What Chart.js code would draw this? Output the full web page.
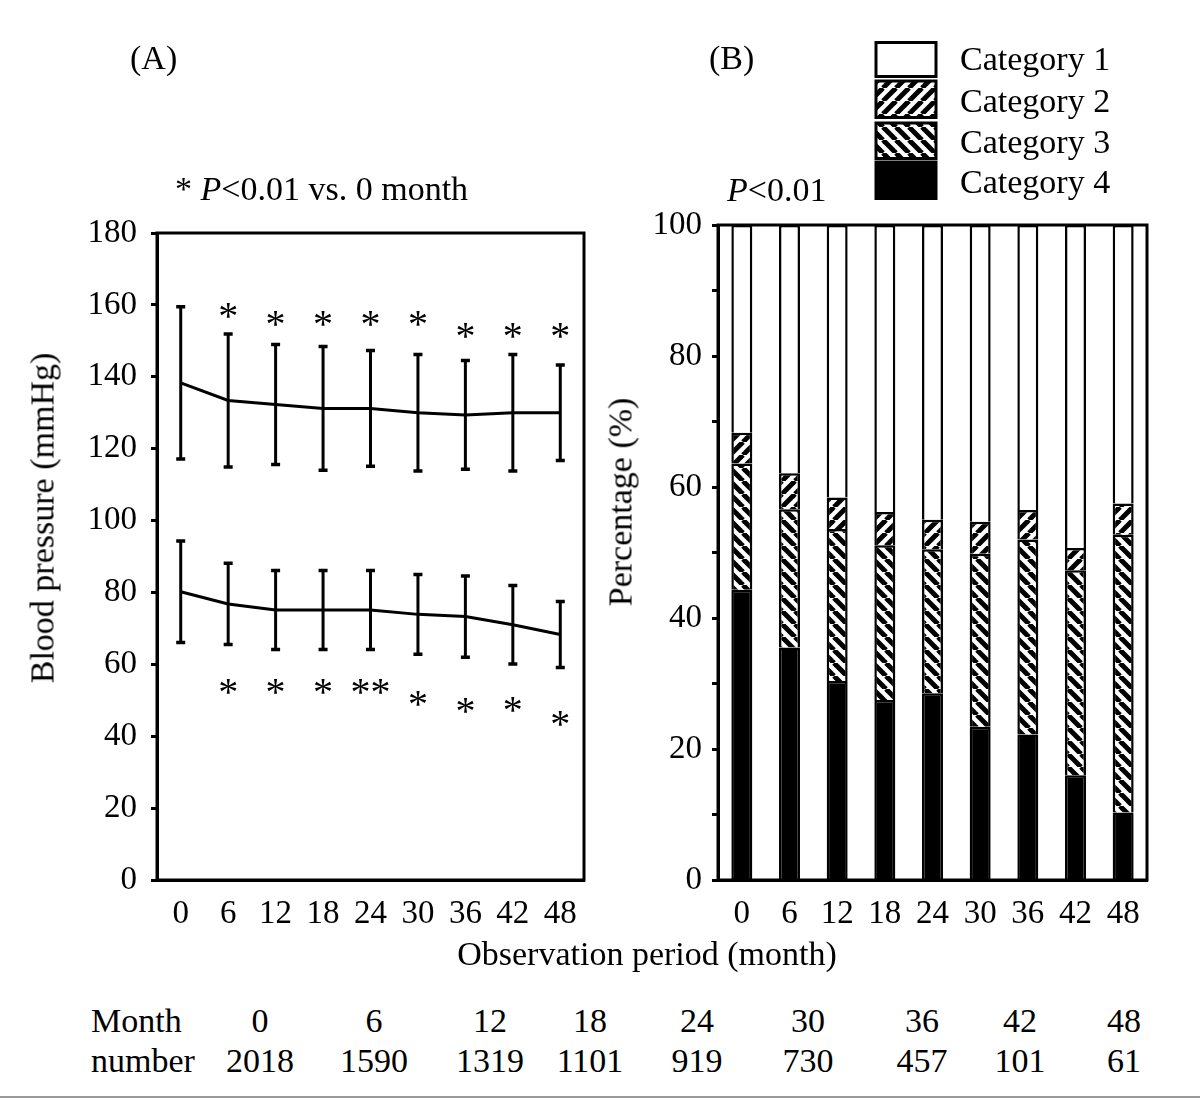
<!DOCTYPE html>
<html><head><meta charset="utf-8">
<script src="https://cdn.jsdelivr.net/npm/chart.js@4.4.1/dist/chart.umd.min.js"></script>
<style>
html,body{margin:0;padding:0;background:#fff;}
body{width:1200px;height:1100px;position:relative;overflow:hidden;font-family:"Liberation Serif","Times New Roman",serif;color:#000;}
.t{position:absolute;font-size:34px;line-height:33px;white-space:nowrap;}
.c{transform:translate(-50%,-50%);}
.r{transform:translate(-50%,-50%) rotate(-90deg);}
#wa{position:absolute;left:0;top:0;width:600px;height:960px;}
#wb{position:absolute;left:600px;top:0;width:600px;height:960px;}
#leg{position:absolute;left:870px;top:36px;}
#hr{position:absolute;left:0;top:1096px;width:1200px;height:2px;background:#999;}
</style></head>
<body>
<div id="wa"><canvas id="ca"></canvas></div>
<div id="wb"><canvas id="cb"></canvas></div>
<canvas id="leg" width="75" height="170"></canvas>
<div id="texts"></div>
<div id="hr"></div>
<script>
// ---------- data ----------
const months = ['0','6','12','18','24','30','36','42','48'];
const sysMean = [138.3,133.4,132.3,131.2,131.2,130.0,129.4,130.0,130.0];
const sysSD   = [21.2,18.5,16.7,17.2,16.1,16.2,15.1,16.2,13.3];
const diaMean = [80.2,76.8,75.1,75.1,75.1,73.9,73.3,71.0,68.3];
const diaSD   = [14.1,11.3,11.0,11.0,11.0,11.1,11.3,10.9,9.2];
const sysStarVal  = [null,158.6,156.3,156.3,156.3,156.3,153.0,153.0,153.0];
const sysStarText = ['','*','*','*','*','*','*','*','*'];
const diaStarVal  = [null,54.1,54.1,54.1,54.1,50.7,48.7,48.9,45.2];
const diaStarText = ['','*','*','*','**','*','*','*','*'];

const cat4 = [44.3,35.5,30.4,27.5,28.5,23.4,22.2,16.0,10.3];
const cat3 = [19.3,21.1,23.2,23.6,22.0,26.4,29.8,31.3,42.4];
const cat2 = [4.7,5.5,4.8,5.1,4.5,4.9,4.5,3.4,4.8];
const cat1 = [31.7,37.9,41.6,43.8,45.0,45.3,43.5,49.3,42.5];
const categoryNames = ['Category 1','Category 2','Category 3','Category 4'];

const tableMonths = ['0','6','12','18','24','30','36','42','48'];
const tableNumbers = ['2018','1590','1319','1101','919','730','457','101','61'];

// ---------- layout (not data) ----------
const tableColX = [260,374,490,590,697,808,922,1020,1124];
const FONT = '"Liberation Serif","Times New Roman",serif';

// ---------- texts ----------
const T = document.getElementById('texts');
function addText(html, x, y, cls){
  const d = document.createElement('div');
  d.className = 't ' + (cls||'');
  d.style.left = x + 'px';
  d.style.top = (cls ? y : y - 16.5) + 'px';
  d.innerHTML = html;
  T.appendChild(d);
}
addText('(A)', 130, 57);
addText('(B)', 709, 57);
addText('* <i>P</i>&lt;0.01 vs. 0 month', 175, 188);
addText('<i>P</i>&lt;0.01', 727, 189);
addText('Blood pressure (mmHg)', 42, 518, 'r');
addText('Percentage (%)', 620, 502, 'r');
addText('Observation period (month)', 647, 953, 'c');
addText('Month', 91, 1020);
addText('number', 91, 1060);
tableMonths.forEach((m,i)=>addText(m, tableColX[i], 1020, 'c'));
tableNumbers.forEach((n,i)=>addText(n, tableColX[i], 1060, 'c'));
const legY = [58,100,141,181];
categoryNames.forEach((n,i)=>addText(n, 960, legY[i]));

// ---------- patterns ----------
function stripe(ctx, dir){
  const s = 13, c = document.createElement('canvas');
  c.width = s; c.height = s;
  const g = c.getContext('2d');
  g.fillStyle = '#fff'; g.fillRect(0,0,s,s);
  g.strokeStyle = '#000'; g.lineWidth = 5;
  for (let k=-1;k<=1;k++){
    g.beginPath();
    if (dir > 0){ g.moveTo(k*s, s); g.lineTo(k*s+s, 0); }
    else { g.moveTo(k*s, 0); g.lineTo(k*s+s, s); }
    g.stroke();
  }
  return ctx.createPattern(c, 'repeat');
}

// legend swatches
(function(){
  const lc = document.getElementById('leg').getContext('2d');
  const fills = ['#fff', stripe(lc, 1), stripe(lc, -1), '#000'];
  const boxes = [[6,6.5,60,34],[6,45,60,36.5],[6,87,60,35.5],[6,126,60,36.5]];
  boxes.forEach((b,i)=>{
    lc.fillStyle = fills[i]; lc.fillRect(b[0],b[1],b[2],b[3]);
    lc.strokeStyle = '#000'; lc.lineWidth = 3; lc.strokeRect(b[0],b[1],b[2],b[3]);
  });
})();

// ---------- plugins ----------
const boxPlugin = {
  id:'box',
  afterDraw(chart){
    const {ctx, chartArea:a} = chart;
    ctx.save(); ctx.strokeStyle='#000'; ctx.lineWidth=3;
    ctx.strokeRect(a.left, a.top, a.right-a.left, a.bottom-a.top);
    ctx.restore();
  }
};
const errPlugin = {
  id:'err',
  afterDatasetsDraw(chart){
    const {ctx, scales:{x,y}} = chart;
    ctx.save(); ctx.strokeStyle='#000'; ctx.fillStyle='#000';
    [[sysMean,sysSD],[diaMean,diaSD]].forEach(([m,sd])=>{
      m.forEach((v,i)=>{
        const px = x.getPixelForValue(i);
        const yt = y.getPixelForValue(v+sd[i]);
        const yb = y.getPixelForValue(v-sd[i]);
        ctx.lineWidth = 3;
        ctx.beginPath(); ctx.moveTo(px,yt); ctx.lineTo(px,yb); ctx.stroke();
        ctx.lineWidth = 3.5;
        ctx.beginPath();
        ctx.moveTo(px-4.5,yt); ctx.lineTo(px+4.5,yt);
        ctx.moveTo(px-4.5,yb); ctx.lineTo(px+4.5,yb);
        ctx.stroke();
      });
    });
    ctx.font = '40px ' + FONT; ctx.textAlign='center'; ctx.textBaseline='alphabetic';
    [[sysStarVal,sysStarText],[diaStarVal,diaStarText]].forEach(([vals,txt])=>{
      vals.forEach((v,i)=>{
        if (v === null || !txt[i]) return;
        ctx.fillText(txt[i], x.getPixelForValue(i), y.getPixelForValue(v)+19);
      });
    });
    ctx.restore();
  }
};

const tickFont = {family: FONT, size: 33};

// ---------- chart A ----------
new Chart(document.getElementById('ca'), {
  type:'line',
  data:{labels:months, datasets:[
    {label:'Systolic', data:sysMean, borderColor:'#000', borderWidth:3, pointRadius:0, tension:0, fill:false},
    {label:'Diastolic', data:diaMean, borderColor:'#000', borderWidth:3, pointRadius:0, tension:0, fill:false}
  ]},
  options:{
    responsive:true, maintainAspectRatio:false, animation:false,
    layout:{padding:{top:233,right:16,bottom:20,left:0}},
    plugins:{legend:{display:false}, tooltip:{enabled:false}},
    scales:{
      x:{type:'category', offset:true,
         grid:{display:false, drawTicks:false},
         border:{display:true, color:'#000', width:3},
         ticks:{color:'#000', font:tickFont, padding:15, maxRotation:0, autoSkip:false},
         afterFit:(s)=>{s.height=60;}},
      y:{min:0, max:180,
         grid:{display:true, drawOnChartArea:false, drawTicks:true, tickLength:6, tickWidth:3, tickColor:'#000'},
         border:{display:true, color:'#000', width:3},
         ticks:{stepSize:20, color:'#000', font:tickFont, padding:14},
         afterFit:(s)=>{s.width=157;}}
    }
  },
  plugins:[errPlugin, boxPlugin]
});

// ---------- chart B ----------
const ctxB = document.getElementById('cb').getContext('2d');
const barCommon = {borderColor:'#000', borderWidth:2.5, stack:'s'};
new Chart(ctxB, {
  type:'bar',
  data:{labels:months, datasets:[
    Object.assign({label:categoryNames[3], data:cat4, backgroundColor:'#000'}, barCommon),
    Object.assign({label:categoryNames[2], data:cat3, backgroundColor:stripe(ctxB,-1)}, barCommon),
    Object.assign({label:categoryNames[1], data:cat2, backgroundColor:stripe(ctxB,1)}, barCommon),
    Object.assign({label:categoryNames[0], data:cat1, backgroundColor:'#fff'}, barCommon)
  ]},
  options:{
    responsive:true, maintainAspectRatio:false, animation:false,
    layout:{padding:{top:225,right:53,bottom:20,left:0}},
    datasets:{bar:{barPercentage:0.44, categoryPercentage:1}},
    plugins:{legend:{display:false}, tooltip:{enabled:false}},
    scales:{
      x:{stacked:true,
         grid:{display:false, drawTicks:false},
         border:{display:true, color:'#000', width:3},
         ticks:{color:'#000', font:tickFont, padding:15, maxRotation:0, autoSkip:false},
         afterFit:(s)=>{s.height=60;}},
      y:{stacked:true, min:0, max:100,
         grid:{display:true, drawOnChartArea:false, drawTicks:true, tickLength:6, tickWidth:3, tickColor:'#000'},
         border:{display:true, color:'#000', width:3},
         ticks:{stepSize:10, color:'#000', font:tickFont, padding:10, autoSkip:false,
                callback:(v)=> (v % 20 === 0 ? String(v) : '')},
         afterFit:(s)=>{s.width=118;}}
    }
  },
  plugins:[boxPlugin]
});
</script>
</body></html>
